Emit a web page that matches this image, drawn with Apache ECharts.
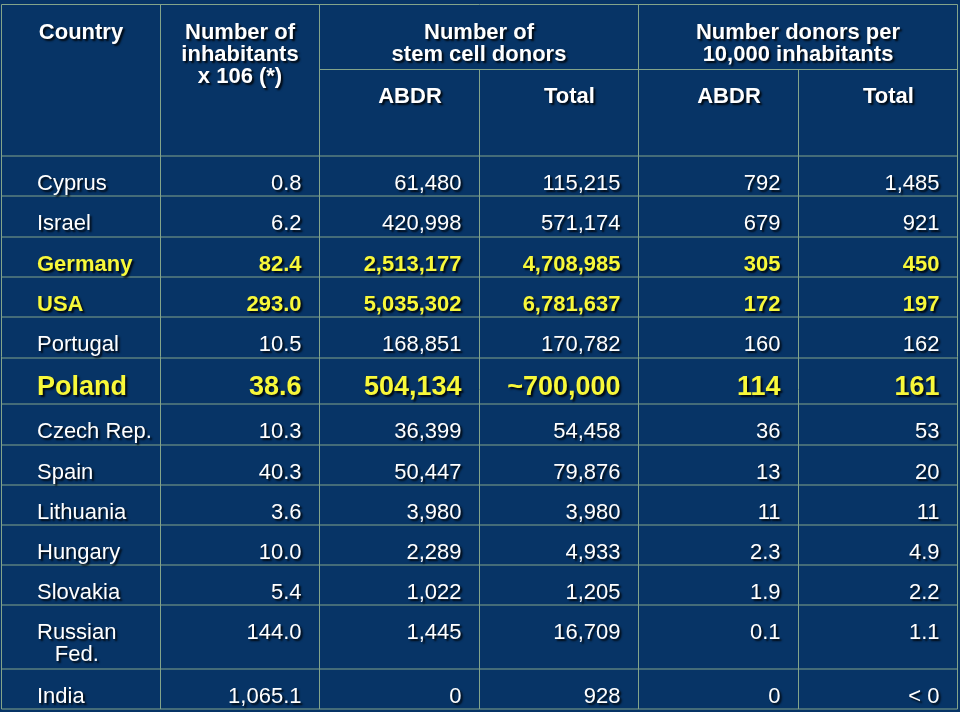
<!DOCTYPE html>
<html><head><meta charset="utf-8">
<script src="https://cdn.jsdelivr.net/npm/echarts@6/dist/echarts.min.js"></script>
<style>html,body{margin:0;padding:0;background:#073466}#c{width:960px;height:712px}</style>
</head><body><div id="c"></div><script>
// ---- data ----
const countries = ['Cyprus','Israel','Germany','USA','Portugal','Poland','Czech Rep.','Spain','Lithuania','Hungary','Slovakia','Russian\nFed.','India'];
const inhabitants = ['0.8','6.2','82.4','293.0','10.5','38.6','10.3','40.3','3.6','10.0','5.4','144.0','1,065.1'];
const donorsABDR = ['61,480','420,998','2,513,177','5,035,302','168,851','504,134','36,399','50,447','3,980','2,289','1,022','1,445','0'];
const donorsTotal = ['115,215','571,174','4,708,985','6,781,637','170,782','~700,000','54,458','79,876','3,980','4,933','1,205','16,709','928'];
const perABDR = ['792','679','305','172','160','114','36','13','11','2.3','1.9','0.1','0'];
const perTotal = ['1,485','921','450','197','162','161','53','20','11','4.9','2.2','1.1','< 0'];
const highlighted = ['Germany','USA'];
const emphasized = ['Poland'];
const headerMain = ['Country','Number of\ninhabitants\nx 106 (*)','Number of\nstem cell donors','Number donors per\n10,000 inhabitants'];
const headerSub = ['ABDR','Total','ABDR','Total'];

// ---- layout / style ----
const columns = [countries, inhabitants, donorsABDR, donorsTotal, perABDR, perTotal];
const colX = [1.5,160.5,319.5,479.5,638.5,798.5,957.5];
const headTop = 4.5, headMid = 69.5, headBottom = 155.5;
const rowHeights = [40,41,40,40,41,46,41,40,40,40,40,64,40];
const rowTops = [];
(function(){let y = headBottom; rowHeights.forEach(h=>{rowTops.push(y); y+=h;}); rowTops.push(y);})();
const FONT = '"Liberation Sans", Arial, Helvetica, sans-serif';
const LINE = '#83a48a';
const WHITE = '#ffffff', YELLOW = '#f8f83a';
const shadow = {textShadowColor:'rgba(0,0,0,0.85)', textShadowBlur:2, textShadowOffsetX:2, textShadowOffsetY:2};

function measure(t, font){const c=document.createElement('canvas').getContext('2d');c.font=font;return c.measureText(t).width;}

const cells = [];
columns.forEach((col, c) => col.forEach((v, r) => cells.push([r, c])));

// frame lines
const graphics = [];
function line(x1,y1,x2,y2){graphics.push({type:'line',silent:true,shape:{x1,y1,x2,y2},style:{stroke:LINE,lineWidth:1}});}
const bottom = rowTops[rowTops.length-1];
line(colX[0], headTop, colX[6], headTop);
line(colX[2], headMid, colX[6], headMid);
rowTops.forEach(y => line(colX[0], y+0.5, colX[6], y+0.5));
[0,1,2,4,6].forEach(i => line(colX[i], headTop, colX[i], bottom+0.5));
[3,5].forEach(i => line(colX[i], headMid, colX[i], bottom+0.5));

// headers
const hStyle = (text, x, y) => ({type:'text', silent:true, x, y, style:Object.assign({text, fill:WHITE, fontFamily:FONT, fontSize:22, fontWeight:'bold', align:'center', verticalAlign:'top', lineHeight:21.8}, shadow)});
const mainCenters = [(colX[0]+colX[1])/2, (colX[1]+colX[2])/2, (colX[2]+colX[4])/2, (colX[4]+colX[6])/2];
headerMain.forEach((t,i) => graphics.push(hStyle(t, mainCenters[i], 22.3)));
headerSub.forEach((t,i) => graphics.push(hStyle(t, (colX[i+2]+colX[i+3])/2 + 10.5, 85.8)));

const option = {
  backgroundColor: '#073466',
  animation: false,
  graphic: graphics,
  series: [{
    type: 'custom',
    coordinateSystem: 'none',
    silent: true,
    data: cells,
    renderItem: function(params, api){
      const r = api.value(0), c = api.value(1);
      const text = columns[c][r];
      const country = countries[r];
      const big = emphasized.indexOf(country) >= 0;
      const hl = big || highlighted.indexOf(country) >= 0;
      const fontSize = big ? 27 : 22;
      const fontWeight = hl ? 'bold' : 'normal';
      const lh = 22;
      const top = rowTops[r] + (big ? 30 : 28.5) - lh/2;
      let x, align;
      if (c === 0) {
        if (text.indexOf('\n') >= 0) {
          const w = measure(text.split('\n')[0], fontWeight+' '+fontSize+'px '+FONT);
          x = colX[0] + 35.5 + w/2; align = 'center';
        } else { x = colX[0] + 35.5; align = 'left'; }
      } else { x = colX[c+1] - 18; align = 'right'; }
      return {type:'text', x, y: top, style: Object.assign({text, fill: hl ? YELLOW : WHITE, fontFamily: FONT, fontSize, fontWeight, align, verticalAlign:'top', lineHeight: lh}, shadow)};
    }
  }]
};
const chart = echarts.init(document.getElementById('c'), null, {renderer:'canvas'});
chart.setOption(option);
</script></body></html>
